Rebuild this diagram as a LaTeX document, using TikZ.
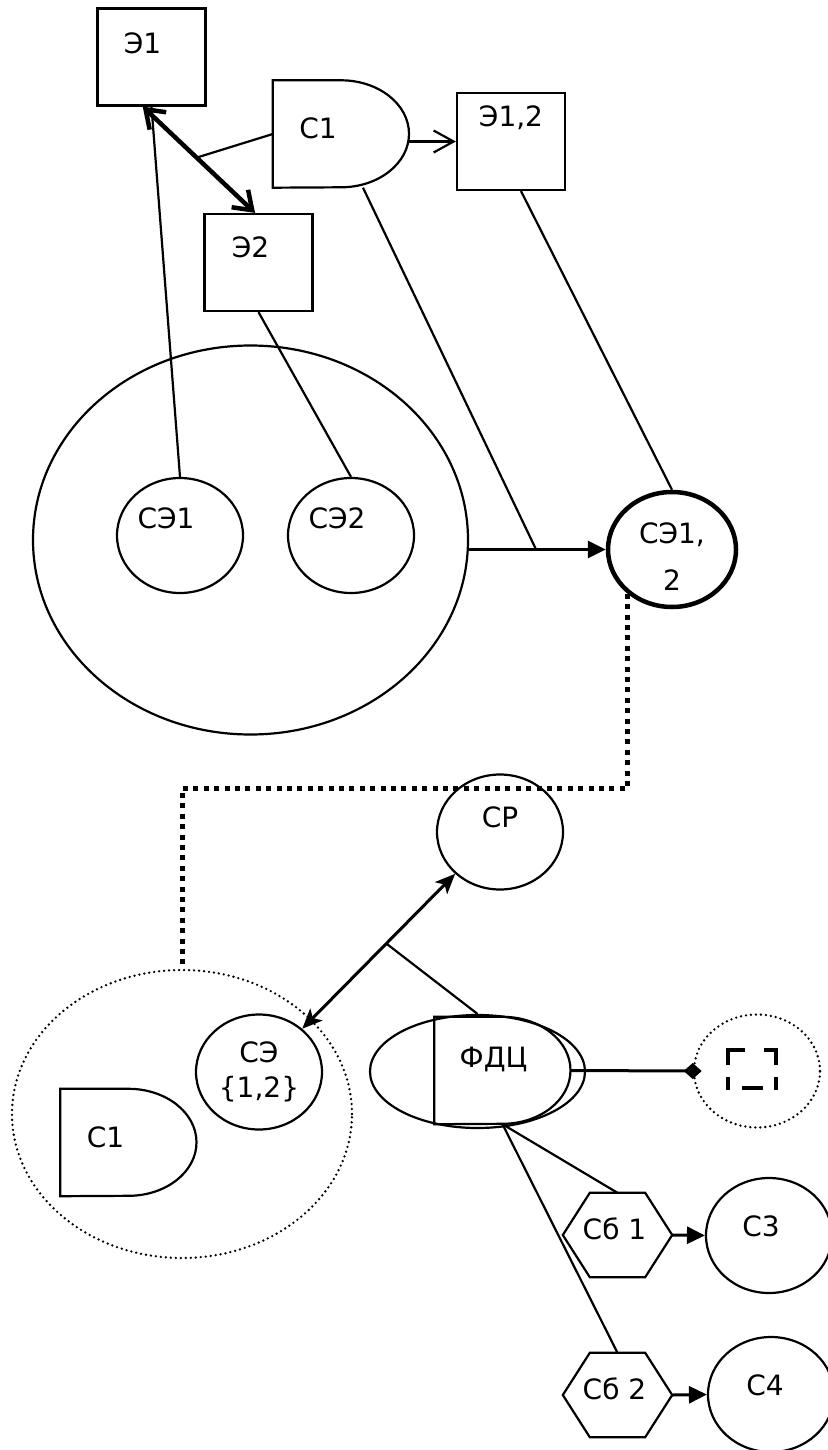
\documentclass[tikz,border=0pt]{standalone}
\usepackage{fontspec}
\setmainfont{DejaVu Sans}
\usetikzlibrary{shapes.geometric, arrows.meta, calc}

\tikzset{
  elem/.style={draw, line width=2.2pt, rectangle, minimum width=108pt, minimum height=97pt, inner sep=0pt},
  sost/.style={draw, line width=2.2pt, ellipse, minimum width=126pt, minimum height=115pt, inner sep=0pt},
  dbox/.style={rectangle, minimum width=136pt, minimum height=107pt, inner sep=0pt},
  hexbox/.style={rectangle, minimum width=109pt, minimum height=84pt, inner sep=0pt},
  lbl/.style={font=\fontsize{28}{34}\selectfont},
  thindots/.style={line width=2.6pt, line cap=round, dash pattern=on 0pt off 5pt},
  bigdots/.style={line width=5pt, dash pattern=on 5pt off 5.4pt}
}

% D-shaped block drawn on a dbox node
\newcommand{\dblock}[1]{%
  \draw[line width=2.2pt] (#1.north west) -- (#1.north)
    arc[start angle=90, end angle=-90, x radius=68pt, y radius=53.5pt]
    -- (#1.south west) -- cycle;}
% hexagon drawn on a hexbox node
\newcommand{\hexblock}[1]{%
  \draw[line width=2.2pt] (#1.west) -- ([xshift=27pt]#1.north west) -- ([xshift=-27pt]#1.north east)
    -- (#1.east) -- ([xshift=-27pt]#1.south east) -- ([xshift=27pt]#1.south west) -- cycle;}

\begin{document}
\begin{tikzpicture}[x=1pt, y=-1pt]
  \useasboundingbox (0,0) rectangle (827,1450);

  % Elements
  \node[elem, label={[lbl, xshift=-9pt, yshift=14pt]center:Э1}] (e1) at (151.5,57) {};
  \node[elem, label={[lbl, xshift=-8pt, yshift=15pt]center:Э2}] (e2) at (258.5,262.5) {};
  \node[elem, label={[lbl, yshift=24pt]center:Э1,2}] (e12) at (511,141.5) {};
  \node[dbox, label={[lbl, xshift=-23pt, yshift=6pt]center:С1}] (c1) at (341,134) {};
  \dblock{c1}

  % Upper states
  \node[sost, minimum width=435pt, minimum height=389pt] (big) at (250.5,540) {};
  \node[sost, label={[lbl, xshift=-14pt, yshift=17pt]center:СЭ1}] (se1) at (180,535.5) {};
  \node[sost, label={[lbl, xshift=-14pt, yshift=17pt]center:СЭ2}] (se2) at (351,535.5) {};
  \node[sost, line width=4.5pt, minimum width=128pt,
        label={[lbl, align=center, yshift=-7pt]center:{СЭ1,\\[13pt]2}}] (se12) at (672,549.5) {};

  % Upper connectors
  \draw[line width=4.5pt, {Straight Barb[length=17pt,width=24pt]}-{Straight Barb[length=17pt,width=24pt]}]
    (e1.260) -- (e2.94);
  \coordinate (j1) at ($(e1.260)!0.48!(e2.94)$);
  \draw[line width=2.2pt] (c1.west) -- (j1);
  \draw[line width=2.2pt, -{Straight Barb[length=20pt,width=22pt]}] (c1.east |- e12.west) -- (e12.west);
  \draw[line width=2.2pt] (e1.south) -- (se1.north);
  \draw[line width=2.2pt] (e2.south) -- (se2.north);
  \draw[line width=3pt, -{Triangle[length=18pt,width=17pt]}] (big.east |- se12.west) -- (se12.west);
  \coordinate (j2) at ($(big.east |- se12.west)!0.49!(se12.west)$);
  \draw[line width=2.2pt] ([xshift=22pt]c1.south) -- (j2);
  \draw[line width=2.2pt] ([xshift=10pt]e12.south) -- (se12.north);

  % Lower part
  \node[sost] (cp) at (500,832) {};
  \node[lbl] (cpt) at (500,817) {СР};
  \node[draw, thindots, ellipse, minimum width=340pt, minimum height=288pt, inner sep=0pt] (outer) at (182,1114) {};
  \node[sost, label={[lbl, align=center]center:{СЭ\\[1pt]\{1,2\}}}] (se) at (259,1072) {};
  \node[dbox, label={[lbl, xshift=-23pt, yshift=5pt]center:С1}] (c1b) at (128.5,1142.5) {};
  \dblock{c1b}
  \node[sost, minimum width=215pt, minimum height=113pt] (fdc) at (477.5,1071.5) {};
  \node[dbox, label={[lbl, xshift=-9pt, yshift=11pt]center:ФДЦ}] (fdcd) at (502.5,1070.5) {};
  \dblock{fdcd}
  \node[sost, thindots, minimum height=113pt] (dc) at (757,1071) {};
  \begin{scope}[shift={(dc.center)}, line width=4pt]
    \draw (-29,-6) -- (-29,-21) -- (-12,-21);
    \draw (7,-21) -- (19,-21) -- (19,-6);
    \draw (-29,6) -- (-29,19);
    \draw (19,6) -- (19,19);
    \draw (-15,17) -- (6,17);
  \end{scope}
  \node[hexbox, label={[lbl, xshift=-3pt, yshift=6pt]center:Сб 1}] (sb1) at (617.5,1235) {};
  \hexblock{sb1}
  \node[hexbox, label={[lbl, xshift=-3pt, yshift=6pt]center:Сб 2}] (sb2) at (617.5,1395) {};
  \hexblock{sb2}
  \node[sost, label={[lbl, xshift=-8pt, yshift=9pt]center:С3}] (c3) at (769,1235.5) {};
  \node[sost, label={[lbl, xshift=-6pt, yshift=9pt]center:С4}] (c4) at (771,1394.5) {};

  % Lower connectors
  \draw[bigdots] (se12.225) |- ($(outer.north)+(0,-180)$) -- (outer.north);
  \draw[line width=3pt, {Stealth[length=20pt,width=17pt,inset=5pt]}-{Stealth[length=20pt,width=17pt,inset=5pt]}]
    (cp.223) -- (se.45);
  \coordinate (j3) at ($(cp.223)!0.45!(se.45)$);
  \draw[line width=2.2pt] (j3) -- (fdc.north);
  \draw[line width=3pt, -{Diamond[length=18pt,width=16pt]}, shorten >=-9pt] (fdcd.east) -- (dc.west);
  \draw[line width=2.2pt] (fdcd.south) -- (sb1.north);
  \draw[line width=2.2pt] (fdcd.south) -- (sb2.north);
  \draw[line width=3pt, -{Triangle[length=18pt,width=17pt]}] (sb1.east) -- (c3.west);
  \draw[line width=3pt, -{Triangle[length=18pt,width=17pt]}] (sb2.east) -- (c4.west);
\end{tikzpicture}
\end{document}
